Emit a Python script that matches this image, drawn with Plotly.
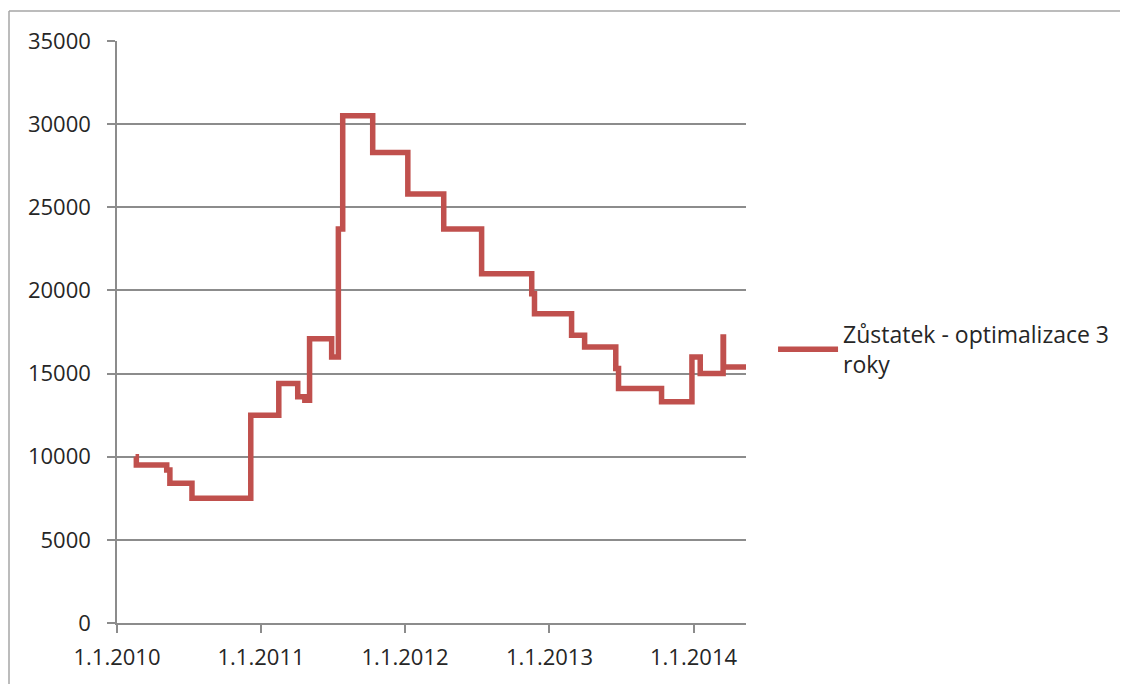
import plotly.graph_objects as go

# Step change dates and balance values (value holds until next date)
dates = ["2010-02-17", "2010-02-19", "2010-05-07", "2010-05-15", "2010-07-10",
         "2010-12-06", "2011-02-15", "2011-04-04", "2011-04-22", "2011-05-04",
         "2011-06-29", "2011-07-16", "2011-07-27", "2011-10-11", "2012-01-08",
         "2012-04-08", "2012-07-13", "2012-11-17", "2012-11-24", "2013-02-26",
         "2013-03-31", "2013-06-18", "2013-06-25", "2013-10-12", "2013-12-28",
         "2014-01-18", "2014-03-17", "2014-03-18", "2014-05-14"]
values = [10000, 9500, 9200, 8400, 7500,
          12500, 14400, 13600, 13400, 17100,
          16000, 23700, 30500, 28300, 25800,
          23700, 21000, 19800, 18600, 17300,
          16600, 15300, 14100, 13300, 16000,
          15000, 17200, 15400, 15400]

series_name = "Zůstatek - optimalizace 3<br>roky"
tick_dates = ["2010-01-01", "2011-01-01", "2012-01-01", "2013-01-01", "2014-01-01"]
tick_labels = ["1.1.2010", "1.1.2011", "1.1.2012", "1.1.2013", "1.1.2014"]
y_ticks = [0, 5000, 10000, 15000, 20000, 25000, 30000, 35000]
y_labels = ["0", "5000", "10000", "15000", "20000", "25000", "30000", "35000"]

font_family = "Open Sans, Liberation Sans, sans-serif"
text_color = "#262626"
grid_color = "#8c8c8c"

fig = go.Figure()
fig.add_trace(go.Scatter(
    x=dates, y=values, mode="lines", name=series_name,
    line=dict(color="#C0504D", width=5.5, shape="hv"),
))

fig.update_layout(
    width=1120, height=676,
    margin=dict(l=109, r=382, t=33, b=61, autoexpand=False),
    paper_bgcolor="white", plot_bgcolor="white",
    font=dict(family=font_family, size=22, color=text_color),
    showlegend=True,
    legend=dict(x=1.043, xanchor="left", y=0.47, yanchor="middle",
                font=dict(size=23, color=text_color),
                itemwidth=60, bgcolor="rgba(0,0,0,0)", tracegroupgap=0),
    xaxis=dict(
        type="date", range=["2010-01-01", "2014-05-14"],
        tickvals=tick_dates, ticktext=tick_labels, automargin=False,
        showgrid=False, showline=True, linecolor=grid_color, linewidth=1.5,
        ticks="outside", ticklen=8, tickcolor=grid_color, tickwidth=1.5,
        ticklabelstandoff=6,
        zeroline=False, tickfont=dict(size=22, color=text_color),
    ),
    yaxis=dict(
        range=[0, 35000], tickvals=y_ticks, ticktext=y_labels, automargin=False,
        showgrid=True, gridcolor=grid_color, gridwidth=1.5,
        showline=True, linecolor=grid_color, linewidth=1.5,
        ticks="outside", ticklen=8, tickcolor=grid_color, tickwidth=1.5,
        ticklabelstandoff=12,
        zeroline=False, tickfont=dict(size=22, color=text_color),
    ),
)

# outer chart-area border (left and top edges visible)
fig.add_shape(type="line", xref="paper", yref="paper",
              x0=-0.1717, x1=-0.1717, y0=-0.2, y1=1.0516,
              line=dict(color="#a6a6a6", width=1.5))
fig.add_shape(type="line", xref="paper", yref="paper",
              x0=-0.1717, x1=1.7, y0=1.0516, y1=1.0516,
              line=dict(color="#a6a6a6", width=1.5))

fig.write_html("out.html")
